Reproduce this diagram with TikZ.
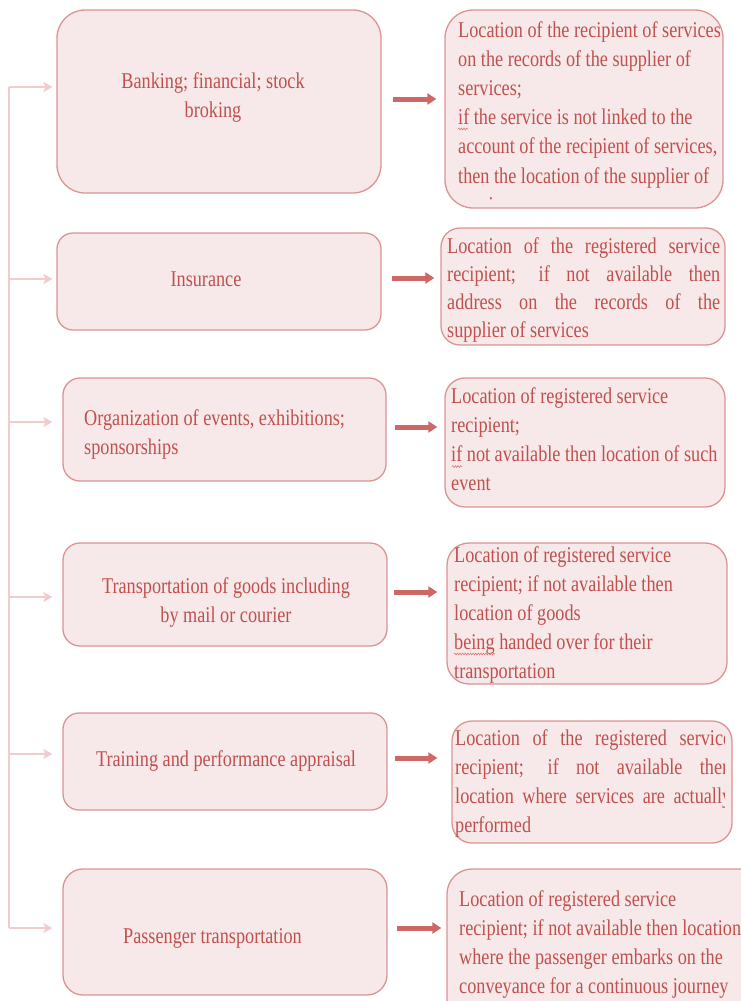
\documentclass[tikz,border=0pt]{standalone}
\usepackage{fontspec}
\usetikzlibrary{arrows.meta,calc,decorations.pathmorphing}
\newfontfamily\boxfont[FakeStretch=0.81]{Liberation Serif}
\definecolor{boxfill}{RGB}{247,233,233}
\definecolor{boxline}{RGB}{218,148,147}
\definecolor{boxtext}{RGB}{192,80,77}
\definecolor{linkline}{RGB}{241,204,204}
\definecolor{flowfill}{RGB}{204,104,102}
\definecolor{squigred}{RGB}{222,120,120}
\tikzset{
  card/.style={draw=boxline, fill=boxfill, line width=1.3pt, inner sep=0pt},
  words/.style={inner sep=0pt, text=boxtext, font=\boxfont\fontsize{22.5}{29.2}\selectfont},
  trunk/.style={draw=linkline, line width=2pt},
  feed/.style={draw=linkline, line width=2pt, -{Stealth[length=9pt,width=10pt,inset=2pt]}},
  flow/.style={draw=flowfill, line width=5pt, -{Triangle[length=9pt,width=11pt]}},
  speller/.style={draw=squigred, line width=0.6pt, decorate,
    decoration={snake, amplitude=0.9pt, segment length=2.6pt}},
}
\begin{document}
\begin{tikzpicture}[x=1pt,y=-1pt]
\useasboundingbox (0,0) rectangle (741,1001);

% ---- left column: kinds of service ----
\node[card, minimum width=324pt, minimum height=183pt, rounded corners=28pt] (b1) at (219,101.5) {};
\node[card, minimum width=324pt, minimum height=97pt,  rounded corners=16pt] (b2) at (219,281.5) {};
\node[card, minimum width=323pt, minimum height=103pt, rounded corners=17pt] (b3) at (224.5,429.5) {};
\node[card, minimum width=324pt, minimum height=103pt, rounded corners=17pt] (b4) at (225,594.5) {};
\node[card, minimum width=324pt, minimum height=97pt,  rounded corners=16pt] (b5) at (225,761.5) {};
\node[card, minimum width=324pt, minimum height=126pt, rounded corners=20pt] (b6) at (225,932) {};

\node[words, anchor=base] (b1-text) at (213,88.3)
  {\parbox[t]{280pt}{\centering Banking; financial; stock\\broking}};
\node[words, anchor=base] (b2-text) at (206,286) {Insurance};
\node[words, anchor=base west] (b3-text) at (84,425)
  {\parbox[t]{290pt}{\raggedright Organization of events, exhibitions;\\sponsorships}};
\node[words, anchor=base] (b4-text) at (226,593)
  {\parbox[t]{300pt}{\centering Transportation of goods including\\by mail or courier}};
\node[words, anchor=base] (b5-text) at (226,766) {Training and performance appraisal};
\node[words, anchor=base] (b6-text) at (212.5,943) {Passenger transportation};

% ---- right column: place of supply ----
\node[card, minimum width=278pt, minimum height=198pt, rounded corners=28pt] (r1) at (584,109) {};
\node[card, minimum width=284pt, minimum height=117pt, rounded corners=19pt] (r2) at (583,286.5) {};
\node[card, minimum width=280pt, minimum height=129pt, rounded corners=20pt] (r3) at (585,442.5) {};
\node[card, minimum width=280pt, minimum height=141pt, rounded corners=22pt] (r4) at (587,613.5) {};
\node[card, minimum width=280pt, minimum height=122pt, rounded corners=20pt] (r5) at (592,782) {};
\node[card, minimum width=320pt, minimum height=162pt, rounded corners=25pt] (r6) at (607,950) {};

\begin{scope}
  \clip (r1.north west) rectangle ([yshift=9pt]r1.south east);
  \node[words, anchor=base west] (r1-text) at (458,37)
    {\parbox[t]{300pt}{\raggedright Location of the recipient of services\\
     on the records of the supplier of\\
     services;\\
     if the service is not linked to the\\
     account of the recipient of services,\\
     then the location of the supplier of\\
     services.}};
\end{scope}

\node[words, anchor=base west] (r2-text) at (447,253)
  {\parbox[t]{300pt}{\fontsize{22.5}{28}\selectfont\raggedright
   \makebox[273pt][s]{Location of the registered service}\\
   \makebox[273pt][s]{recipient; if not available then}\\
   \makebox[273pt][s]{address on the records of the}\\
   supplier of services}};

\node[words, anchor=base west] (r3-text) at (451,403)
  {\parbox[t]{300pt}{\raggedright Location of registered service\\
   recipient;\\
   if not available then location of such\\
   event}};

\node[words, anchor=base west] (r4-text) at (454,562)
  {\parbox[t]{300pt}{\raggedright Location of registered service\\
   recipient; if not available then\\
   location of goods\\
   being handed over for their\\
   transportation}};

\begin{scope}
  \clip (r5.north west) rectangle ([xshift=-8pt]r5.south east);
  \node[words, anchor=base west] (r5-text) at (455,745)
    {\parbox[t]{300pt}{\raggedright
     \makebox[276pt][s]{Location of the registered service}\\
     \makebox[276pt][s]{recipient; if not available then}\\
     \makebox[276pt][s]{location where services are actually}\\
     performed}};
\end{scope}

\node[words, anchor=base west] (r6-text) at (459,906)
  {\parbox[t]{320pt}{\raggedright Location of registered service\\
   recipient; if not available then location\\
   where the passenger embarks on the\\
   conveyance for a continuous journey}};

% spelling marks under flagged words
\draw[speller] (458,129) -- (468,129);
\draw[speller] (452,466.5) -- (462,466.5);
\draw[speller] (454,654) -- (495,654);

% ---- trunk line feeding every service box ----
\coordinate (t1) at (9,87);
\coordinate (t2) at (9,279);
\coordinate (t3) at (9,422);
\coordinate (t4) at (9,597);
\coordinate (t5) at (9,754);
\coordinate (t6) at (9,928);
\draw[trunk] (t1) -- (t6);
\draw[feed, shorten >=4pt]  (t1) -- (t1 -| b1.west);
\draw[feed, shorten >=4pt]  (t2) -- (t2 -| b2.west);
\draw[feed, shorten >=10pt] (t3) -- (t3 -| b3.west);
\draw[feed, shorten >=10pt] (t4) -- (t4 -| b4.west);
\draw[feed, shorten >=10pt] (t5) -- (t5 -| b5.west);
\draw[feed, shorten >=10pt] (t6) -- (t6 -| b6.west);

% ---- block arrows from service to place of supply ----
\coordinate (f1) at (393,99);
\coordinate (f2) at (392,278);
\coordinate (f3) at (395,427);
\coordinate (f4) at (394,592);
\coordinate (f5) at (395,758);
\coordinate (f6) at (397,928);
\draw[flow, shorten >=8pt]  (f1) -- (f1 -| r1.west);
\draw[flow, shorten >=6pt]  (f2) -- (f2 -| r2.west);
\draw[flow, shorten >=7pt]  (f3) -- (f3 -| r3.west);
\draw[flow, shorten >=9pt]  (f4) -- (f4 -| r4.west);
\draw[flow, shorten >=14pt] (f5) -- (f5 -| r5.west);
\draw[flow, shorten >=5pt]  (f6) -- (f6 -| r6.west);
\end{tikzpicture}
\end{document}
